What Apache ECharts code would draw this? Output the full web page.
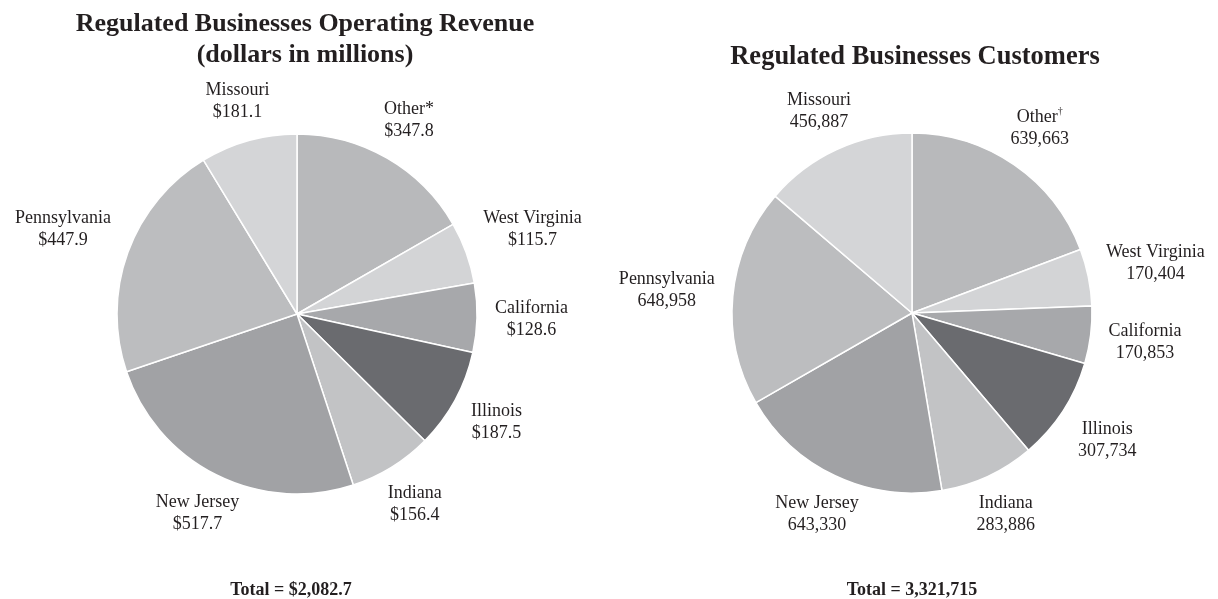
<!DOCTYPE html>
<html>
<head>
<meta charset="utf-8">
<script src="https://cdn.jsdelivr.net/npm/echarts@6/dist/echarts.min.js"></script>
<style>
html,body{margin:0;padding:0;background:#fff;}
#c{width:1218px;height:599px;}
</style>
</head>
<body>
<div id="c"></div>
<script>
const categories = ['Other', 'West Virginia', 'California', 'Illinois', 'Indiana', 'New Jersey', 'Pennsylvania', 'Missouri'];
const revenueValues = [347.8, 115.7, 128.6, 187.5, 156.4, 517.7, 447.9, 181.1];
const customerValues = [639663, 170404, 170853, 307734, 283886, 643330, 648958, 456887];
const sliceColors = ['#b8b9bb', '#d3d4d6', '#a7a8ab', '#6a6b6f', '#c2c3c5', '#a1a2a5', '#bcbdbf', '#d4d5d7'];
const titles = ['Regulated Businesses Operating Revenue\n(dollars in millions)', 'Regulated Businesses Customers'];
const totals = ['Total = $2,082.7', 'Total = 3,321,715'];

const FONT = '"Liberation Serif", "Times New Roman", serif';
const TXT = '#231f20';
const RADIUS = 180;
const LABEL_GAP = 18;

function fmtNum(v) { return v.toLocaleString('en-US'); }

function makeData(values) {
  return categories.map((c, i) => ({ name: c, value: values[i], itemStyle: { color: sliceColors[i] } }));
}

function pieSeries(center, values, formatter) {
  const total = values.reduce((a, b) => a + b, 0);
  return {
    type: 'pie',
    center: center,
    radius: RADIUS,
    startAngle: 90,
    clockwise: true,
    avoidLabelOverlap: false,
    animation: false,
    silent: true,
    itemStyle: { borderColor: '#ffffff', borderWidth: 1.5 },
    label: {
      show: true,
      position: 'outside',
      fontFamily: FONT,
      fontSize: 18,
      lineHeight: 22,
      color: TXT,
      formatter: formatter,
      rich: {
        sup: { fontFamily: FONT, fontSize: 10, color: TXT, verticalAlign: 'top', lineHeight: 22, padding: [0, 0, 8, 0] }
      }
    },
    labelLine: { show: false, length: 50, length2: 0 },
    labelLayout: function (p) {
      let cum = 0;
      for (let i = 0; i < p.dataIndex; i++) cum += values[i];
      const mid = (cum + values[p.dataIndex] / 2) / total * Math.PI * 2;
      const dx = Math.sin(mid), dy = -Math.cos(mid);
      const hw = p.labelRect.width / 2, hh = p.labelRect.height / 2;
      const tx = Math.abs(dx) > 1e-6 ? hw / Math.abs(dx) : Infinity;
      const ty = Math.abs(dy) > 1e-6 ? hh / Math.abs(dy) : Infinity;
      const d = RADIUS + LABEL_GAP + Math.min(tx, ty);
      return { x: center[0] + dx * d, y: center[1] + dy * d, align: 'center', verticalAlign: 'middle' };
    },
    data: makeData(values)
  };
}

const chart = echarts.init(document.getElementById('c'), null, { renderer: 'canvas' });
chart.setOption({
  backgroundColor: '#ffffff',
  title: [
    { text: titles[0], left: 300, top: 4, textAlign: 'center',
      textStyle: { fontFamily: FONT, fontSize: 26, fontWeight: 'bold', color: TXT, lineHeight: 31 } },
    { text: titles[1], left: 910, top: 37, textAlign: 'center',
      textStyle: { fontFamily: FONT, fontSize: 26.5, fontWeight: 'bold', color: TXT, lineHeight: 31 } },
    { text: totals[0], left: 286, top: 576, textAlign: 'center',
      textStyle: { fontFamily: FONT, fontSize: 18, fontWeight: 'bold', color: TXT } },
    { text: totals[1], left: 907, top: 576, textAlign: 'center',
      textStyle: { fontFamily: FONT, fontSize: 18, fontWeight: 'bold', color: TXT } }
  ],
  series: [
    pieSeries([297, 314], revenueValues, function (p) {
      const nm = p.dataIndex === 0 ? p.name + '*' : p.name;
      return nm + '\n$' + p.value.toFixed(1);
    }),
    pieSeries([912, 313], customerValues, function (p) {
      const nm = p.dataIndex === 0 ? p.name + '{sup|†}' : p.name;
      return nm + '\n' + fmtNum(p.value);
    })
  ]
});
</script>
</body>
</html>
